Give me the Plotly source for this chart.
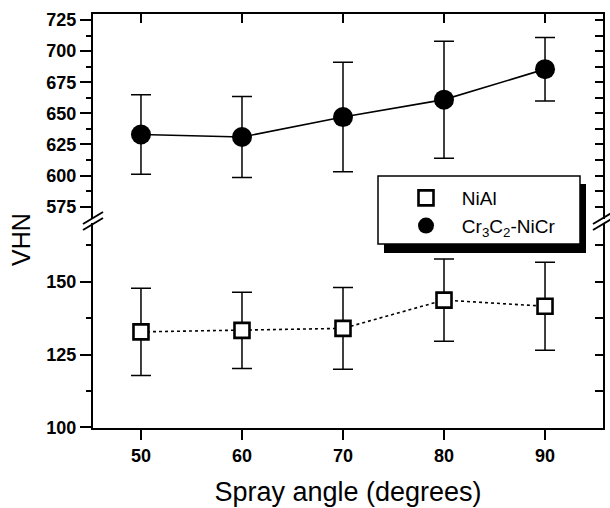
import plotly.graph_objects as go

# ---- data ----
angles = [50, 60, 70, 80, 90]
nial_vhn = [132.8, 133.3, 134.0, 143.7, 141.6]
nial_err = [15.0, 13.1, 14.0, 14.1, 15.1]
cr_vhn = [633.0, 631.0, 647.0, 661.0, 685.5]
cr_err = [32.0, 32.5, 44.0, 47.0, 25.5]
x_ticks = [50, 60, 70, 80, 90]
low_ticks = [100, 125, 150]
high_ticks = [575, 600, 625, 650, 675, 700, 725]
series_names = ["NiAl", "Cr<sub>3</sub>C<sub>2</sub>-NiCr"]

FONT = "Liberation Sans, Arial, sans-serif"
ML, MR, MT, MB = 93, 7, 14, 80
W, H = 610, 508
PW, PH = W - ML - MR, H - MT - MB


def px(xp):
    return (xp - ML) / PW


def py(yp):
    return (H - MB - yp) / PH


sq_marker = dict(symbol="square", size=15, color="white",
                 line=dict(color="black", width=2.6))
ci_marker = dict(symbol="circle", size=20, color="black")

fig = go.Figure()

fig.add_trace(go.Scatter(
    x=angles, y=nial_vhn, name=series_names[0], mode="lines+markers",
    xaxis="x", yaxis="y", showlegend=False,
    line=dict(color="black", width=1.6, dash="dot"),
    marker=sq_marker,
    error_y=dict(type="data", array=nial_err, color="black",
                 thickness=1.5, width=10),
))
fig.add_trace(go.Scatter(
    x=angles, y=cr_vhn, name=series_names[1],
    mode="lines+markers", xaxis="x2", yaxis="y2", showlegend=False,
    line=dict(color="black", width=1.6),
    marker=ci_marker,
    error_y=dict(type="data", array=cr_err, color="black",
                 thickness=1.5, width=10),
))
# legend entries (symbol only, as in the reference)
pad = "\u00a0\u00a0\u00a0"
fig.add_trace(go.Scatter(x=[None], y=[None], mode="markers", name=pad + series_names[0],
                         xaxis="x", yaxis="y", marker=sq_marker))
fig.add_trace(go.Scatter(x=[None], y=[None], mode="markers", name=pad + series_names[1],
                         xaxis="x", yaxis="y", marker=ci_marker))
# empty traces so mirrored (right-hand) axes are drawn
fig.add_trace(go.Scatter(x=[], y=[], xaxis="x", yaxis="y3", showlegend=False))
fig.add_trace(go.Scatter(x=[], y=[], xaxis="x2", yaxis="y4", showlegend=False))

tickfont = dict(family=FONT, size=18, color="black", weight="bold")
xr = [45.25, 95.74]
low_r = [99.8, 170.0]
high_r = [565.5, 729.8]
low_dom = [0, 0.494]
high_dom = [0.506, 1]

fig.update_layout(
    width=W, height=H,
    margin=dict(l=ML, r=MR, t=MT, b=MB),
    paper_bgcolor="white", plot_bgcolor="white",
    showlegend=True,
    xaxis=dict(domain=[0, 1], range=xr, anchor="y",
               tickvals=x_ticks, ticks="outside", ticklen=10, tickwidth=2,
               tickcolor="black", showline=True, linewidth=2, linecolor="black",
               showgrid=False, zeroline=False, tickfont=tickfont,
               title=dict(text="Spray angle (degrees)",
                          font=dict(family=FONT, size=27, color="black"),
                          standoff=18)),
    xaxis2=dict(domain=[0, 1], range=xr, anchor="y2", matches="x", side="top",
                tickvals=x_ticks, ticks="inside", ticklen=9, tickwidth=2,
                tickcolor="black", showline=True, linewidth=2, linecolor="black",
                showticklabels=False, showgrid=False, zeroline=False),
    yaxis=dict(domain=low_dom, range=low_r, anchor="x",
               tickvals=low_ticks, ticks="outside", ticklen=11, tickwidth=2,
               tickcolor="black", showline=True, linewidth=2, linecolor="black",
               showgrid=False, zeroline=False, tickfont=tickfont,
               minor=dict(tickvals=[112.5, 137.5, 162.5], ticks="outside",
                          ticklen=5, tickwidth=2, tickcolor="black",
                          showgrid=False)),
    yaxis3=dict(range=low_r, overlaying="y", side="right", anchor="x",
                tick0=100, dtick=12.5, ticks="inside", ticklen=8, tickwidth=2,
                tickcolor="black", showline=True, linewidth=2, linecolor="black",
                showticklabels=False, showgrid=False, zeroline=False),
    yaxis2=dict(domain=high_dom, range=high_r, anchor="x2",
                tickvals=high_ticks, ticks="outside", ticklen=11, tickwidth=2,
                tickcolor="black", showline=True, linewidth=2, linecolor="black",
                showgrid=False, zeroline=False, tickfont=tickfont,
                minor=dict(tickvals=[587.5, 612.5, 637.5, 662.5, 687.5, 712.5],
                           ticks="outside", ticklen=5, tickwidth=2,
                           tickcolor="black", showgrid=False)),
    yaxis4=dict(range=high_r, overlaying="y2", side="right", anchor="x2",
                tick0=575, dtick=12.5, ticks="inside", ticklen=8, tickwidth=2,
                tickcolor="black", showline=True, linewidth=2, linecolor="black",
                showticklabels=False, showgrid=False, zeroline=False),
    legend=dict(x=px(406), y=py(179), xanchor="left", yanchor="top",
                bgcolor="rgba(0,0,0,0)", borderwidth=0,
                font=dict(family=FONT, size=19, color="black"),
                tracegroupgap=0, itemsizing="trace"),
)

# legend frame with drop shadow
shapes = [
    dict(type="rect", xref="paper", yref="paper", layer="above",
         x0=px(384), x1=px(586), y0=py(253), y1=py(184),
         fillcolor="black", line=dict(width=0)),
    dict(type="rect", xref="paper", yref="paper", layer="above",
         x0=px(378), x1=px(580), y0=py(244), y1=py(176),
         fillcolor="white", line=dict(color="black", width=1.5)),
]
# axis-break marks
for xc in (ML, W - MR):
    for dy in (-3, 3):
        shapes.append(dict(type="line", xref="paper", yref="paper",
                           x0=px(xc - 10), y0=py(227 + dy),
                           x1=px(xc + 10), y1=py(215 + dy),
                           line=dict(color="black", width=2)))
fig.update_layout(shapes=shapes)

fig.add_annotation(text="VHN", xref="paper", yref="paper",
                   x=px(21), y=py(240), xanchor="center", yanchor="middle",
                   showarrow=False, textangle=-90,
                   font=dict(family=FONT, size=25, color="black"))

fig.write_html("out.html")
